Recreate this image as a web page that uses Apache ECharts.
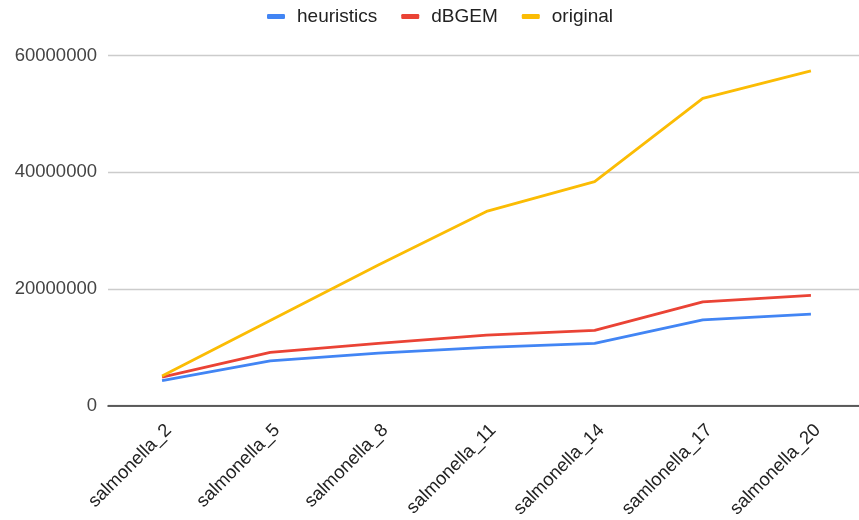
<!DOCTYPE html>
<html><head><meta charset="utf-8">
<script src="https://cdn.jsdelivr.net/npm/echarts@6/dist/echarts.min.js"></script>
<style>html,body{margin:0;padding:0;background:#fff;overflow:hidden}#c{width:880px;height:520px}</style>
</head><body><div id="c"></div>
<script>
var categories = ["salmonella_2","salmonella_5","salmonella_8","salmonella_11","salmonella_14","samlonella_17","salmonella_20"];
var heuristics = [4300000, 7700000, 9000000, 10000000, 10700000, 14700000, 15700000];
var dBGEM = [4900000, 9150000, 10700000, 12100000, 12900000, 17800000, 18900000];
var original = [5100000, 14600000, 24100000, 33300000, 38400000, 52700000, 57400000];
var yTicks = [0, 20000000, 40000000, 60000000];

var chart = echarts.init(document.getElementById('c'), null, {renderer:'canvas'});
var font = 'Arial, "Liberation Sans", sans-serif';
var lw = 2.8;
chart.setOption({
  animation: false,
  legend: {
    top: 2, left: 262,
    itemWidth: 18, itemHeight: 5, itemGap: 24,
    icon: 'roundRect',
    textStyle: {fontFamily: font, fontSize: 19, color: '#222', padding: [0,0,0,7]},
    data: ['heuristics','dBGEM','original']
  },
  grid: {left: 108, top: 55.7, width: 757, height: 350, outerBoundsMode: 'none', containLabel: false},
  xAxis: {
    type: 'category', data: categories, boundaryGap: true,
    axisLine: {lineStyle: {color: '#333', width: 1.5}},
    axisTick: {show: false},
    axisLabel: {rotate: 45, interval: 0, margin: 15, verticalAlign: 'top', align: 'right', fontFamily: font, fontSize: 18.5, color: '#222'}
  },
  yAxis: {
    type: 'value', min: yTicks[0], max: yTicks[yTicks.length-1], interval: yTicks[1]-yTicks[0],
    axisLine: {show: false}, axisTick: {show: false},
    splitLine: {lineStyle: {color: '#ccc', width: 1.3}},
    axisLabel: {margin: 11, fontFamily: font, fontSize: 18.5, color: '#444', formatter: function(v){ return String(v); }}
  },
  series: [
    {name: 'heuristics', type: 'line', data: heuristics, showSymbol: false, symbol: 'none', lineStyle: {width: lw, color: '#4285F4'}, itemStyle: {color: '#4285F4'}},
    {name: 'dBGEM', type: 'line', data: dBGEM, showSymbol: false, symbol: 'none', lineStyle: {width: lw, color: '#EA4335'}, itemStyle: {color: '#EA4335'}},
    {name: 'original', type: 'line', data: original, showSymbol: false, symbol: 'none', lineStyle: {width: lw, color: '#FBBC04'}, itemStyle: {color: '#FBBC04'}}
  ]
});
</script></body></html>
